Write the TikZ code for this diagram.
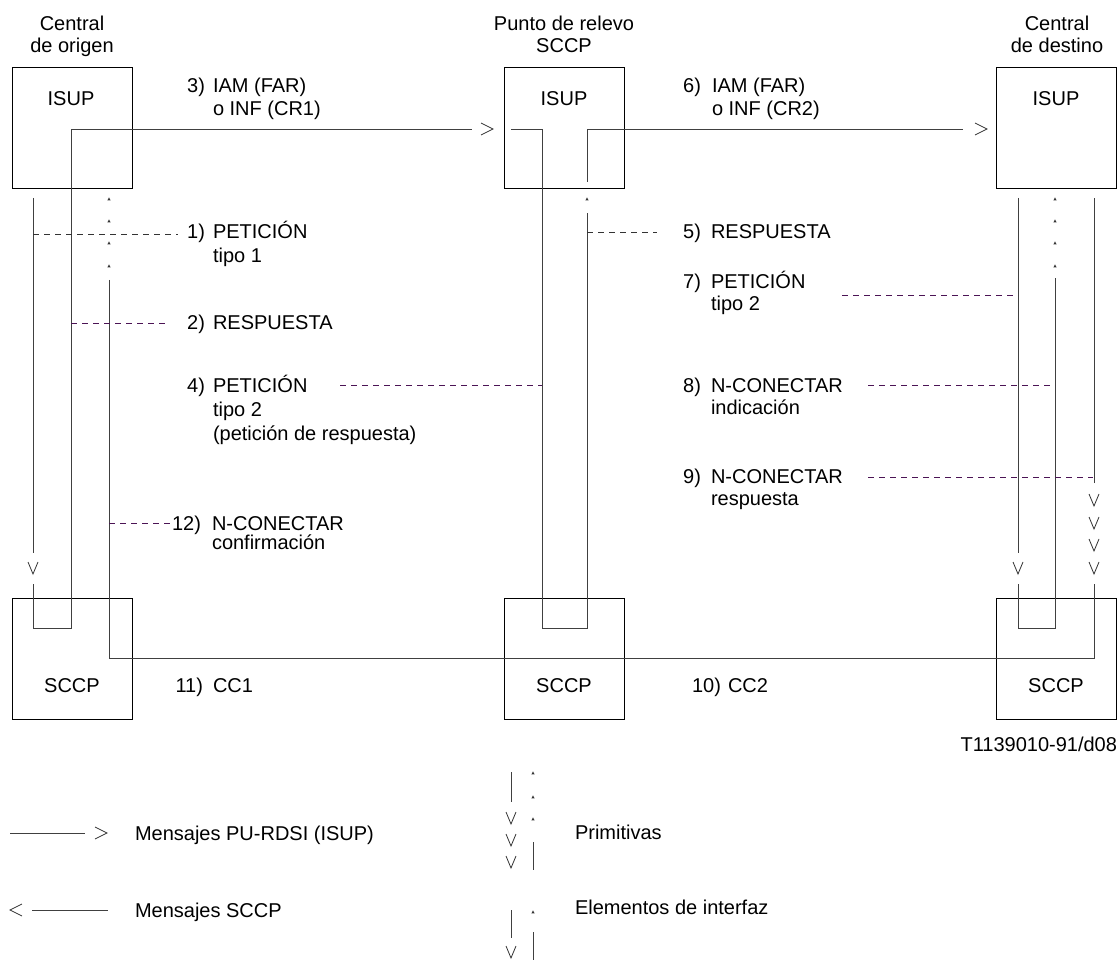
\documentclass[tikz,border=0pt]{standalone}
\usepackage{fontspec}
\setmainfont{Liberation Sans}
\begin{document}
\begin{tikzpicture}[x=1pt,y=-1pt,
  every node/.style={font=\fontsize{20}{24}\selectfont, inner sep=0pt, outer sep=0pt},
  box/.style={draw=black, line width=1pt, minimum width=120pt, minimum height=121pt},
  conn/.style={draw=black!75, line width=0.9pt},
  req/.style={draw=black!80, line width=0.9pt, dash pattern=on 6pt off 5pt},
  reqp/.style={draw={rgb,255:red,75;green,20;blue,85}, line width=0.9pt, dash pattern=on 6pt off 5pt},
  num/.style={anchor=base east},
  txt/.style={anchor=base west},
  hdr/.style={anchor=base},
  vdown/.pic={\draw[black!80, line width=0.8pt] (-5,-6) -- (0,6) -- (5,-6);},
  rchev/.pic={\draw[black!80, line width=0.8pt] (-6,-6) -- (6,0) -- (-6,6);},
  lchev/.pic={\draw[black!80, line width=0.8pt] (6,-6) -- (-6,0) -- (6,6);},
  caret/.pic={\fill[black!80] (-1.6,1.4) -- (0,-1.6) -- (1.6,1.4) -- cycle;}
]
\useasboundingbox (0,0) rectangle (1120,960);

% ---------- exchange boxes ----------
\node[box] (oisup) at (72,128.5) {};
\node[box] (risup) at (564,128.5) {};
\node[box] (disup) at (1056.5,128.5) {};
\node[box] (osccp) at (72,658.5) {};
\node[box] (rsccp) at (564,658.5) {};
\node[box] (dsccp) at (1056.5,658.5) {};

\node[hdr] (h1a) at (72,31) {Central};
\node[hdr] (h1b) at (72,53) {de origen};
\node[hdr] (h2a) at (564,31) {Punto de relevo};
\node[hdr] (h2b) at (564,53) {SCCP};
\node[hdr] (h3a) at (1057,31) {Central};
\node[hdr] (h3b) at (1057,53) {de destino};

\node[hdr] (t1) at (71,106) {ISUP};
\node[hdr] (t2) at (564,106) {ISUP};
\node[hdr] (t3) at (1056,106) {ISUP};
\node[hdr] (t4) at (72,692) {SCCP};
\node[hdr] (t5) at (564,692) {SCCP};
\node[hdr] (t6) at (1056,692) {SCCP};

% ---------- named points of the signal paths ----------
\coordinate (a1) at (33,198);  \coordinate (a2) at (33,553);
\coordinate (a3) at (33,584);  \coordinate (a4) at (33,628);
\coordinate (a5) at (71,628);  \coordinate (a6) at (71,129);
\coordinate (a7) at (472,129);
\coordinate (r1) at (511,129); \coordinate (r2) at (542,129);
\coordinate (r3) at (542,628); \coordinate (r4) at (587,628);
\coordinate (r5) at (587,213); \coordinate (r6) at (587,182);
\coordinate (r7) at (587,129); \coordinate (r8) at (963,129);
\coordinate (c1) at (109,280); \coordinate (c2) at (109,658);
\coordinate (c3) at (1094,658); \coordinate (c4) at (1094,584);
\coordinate (c5) at (1094,483); \coordinate (c6) at (1094,198);
\coordinate (d1) at (1018,198); \coordinate (d2) at (1018,553);
\coordinate (d3) at (1018,584); \coordinate (d4) at (1018,628);
\coordinate (d5) at (1055,628); \coordinate (d6) at (1055,278);

% ---------- origin exchange: primitive down, IAM/INF to relay ----------
\draw[conn] (a1) -- (a2);
\pic at (33,568) {vdown};
\draw[conn] (a3) -- (a4) -- (a5) -- (a6) -- (a7);
\pic at (487,129) {rchev};

% ---------- relay point ----------
\draw[conn] (r1) -- (r2) -- (r3) -- (r4) -- (r5);
\pic at (587,199) {caret};
\draw[conn] (r6) -- (r7) -- (r8);
\pic at (981,129) {rchev};

% ---------- CC path from destination back to origin ----------
\foreach \y in {199,221,243,266} \pic at (109,\y) {caret};
\draw[conn] (c1) -- (c2) -- (c3) -- (c4);
\foreach \y in {500,523,545,568} \pic at (1094,\y) {vdown};
\draw[conn] (c5) -- (c6);

% ---------- destination exchange ----------
\draw[conn] (d1) -- (d2);
\pic at (1018,568) {vdown};
\draw[conn] (d3) -- (d4) -- (d5) -- (d6);
\foreach \y in {199,221,243,266} \pic at (1055,\y) {caret};

% ---------- interface elements (dashed) ----------
\coordinate (q1) at (178,234);  \draw[req]  (33,234) -- (q1);
\coordinate (q2) at (166,323);  \draw[reqp] (71,323) -- (q2);
\coordinate (q4) at (340,385);  \draw[reqp] (q4) -- (542,385);
\coordinate (q5) at (657,232);  \draw[req]  (587,232) -- (q5);
\coordinate (q7) at (842,295);  \draw[reqp] (q7) -- (1018,295);
\coordinate (q8) at (868,385);  \draw[reqp] (q8) -- (1055,385);
\coordinate (q9) at (868,477);  \draw[reqp] (q9) -- (1093,477);
\coordinate (q12) at (172,523); \draw[reqp] (109,523) -- (q12);

% ---------- message labels ----------
\node[num] (n3) at (205,93) {3)};
\node[txt] (m3a) at (213,93) {IAM (FAR)};
\node[txt] (m3b) at (213,116) {o INF (CR1)};
\node[num] (n6) at (701,93) {6)};
\node[txt] (m6a) at (712,93) {IAM (FAR)};
\node[txt] (m6b) at (712,116) {o INF (CR2)};

\node[num] (n1) at (205,239) {1)};
\node[txt] (m1a) at (213,239) {PETICIÓN};
\node[txt] (m1b) at (213,263) {tipo 1};
\node[num] (n2) at (205,330) {2)};
\node[txt] (m2) at (213,330) {RESPUESTA};
\node[num] (n4) at (205,392) {4)};
\node[txt] (m4a) at (213,392) {PETICIÓN};
\node[txt] (m4b) at (213,416) {tipo 2};
\node[txt] (m4c) at (213,440) {(petición de respuesta)};
\node[num] (n12) at (201,530) {12)};
\node[txt] (m12a) at (212,530) {N-CONECTAR};
\node[txt] (m12b) at (212,549) {confirmación};
\node[num] (n11) at (203,692) {11)};
\node[txt] (m11) at (213,692) {CC1};

\node[num] (n5) at (701,239) {5)};
\node[txt] (m5) at (711,239) {RESPUESTA};
\node[num] (n7) at (701,289) {7)};
\node[txt] (m7a) at (711,289) {PETICIÓN};
\node[txt] (m7b) at (711,311) {tipo 2};
\node[num] (n8) at (701,392) {8)};
\node[txt] (m8a) at (711,392) {N-CONECTAR};
\node[txt] (m8b) at (711,414) {indicación};
\node[num] (n9) at (701,483) {9)};
\node[txt] (m9a) at (711,483) {N-CONECTAR};
\node[txt] (m9b) at (711,505) {respuesta};
\node[num] (n10) at (721,692) {10)};
\node[txt] (m10) at (728,692) {CC2};

\node[anchor=base east] (ref) at (1117,751) {T1139010-91/d08};

% ---------- legend ----------
\coordinate (l1a) at (10,833); \coordinate (l1b) at (85,833);
\draw[conn] (l1a) -- (l1b);
\pic at (101,833) {rchev};
\node[txt] (k1) at (135,840) {Mensajes PU-RDSI (ISUP)};

\coordinate (l2a) at (32,910); \coordinate (l2b) at (108,910);
\pic at (16,910) {lchev};
\draw[conn] (l2a) -- (l2b);
\node[txt] (k2) at (135,917) {Mensajes SCCP};

\coordinate (p1) at (511,772); \coordinate (p2) at (511,802);
\draw[conn] (p1) -- (p2);
\foreach \y in {818,840,862} \pic at (511,\y) {vdown};
\foreach \y in {773,797,819} \pic at (533,\y) {caret};
\coordinate (p3) at (533,842); \coordinate (p4) at (533,870);
\draw[conn] (p3) -- (p4);
\node[txt] (k3) at (575,839) {Primitivas};

\coordinate (e1) at (511,910); \coordinate (e2) at (511,938);
\draw[conn] (e1) -- (e2);
\pic at (511,952) {vdown};
\pic at (533,912) {caret};
\coordinate (e3) at (533,932); \coordinate (e4) at (533,960);
\draw[conn] (e3) -- (e4);
\node[txt] (k4) at (575,914) {Elementos de interfaz};
\end{tikzpicture}
\end{document}
